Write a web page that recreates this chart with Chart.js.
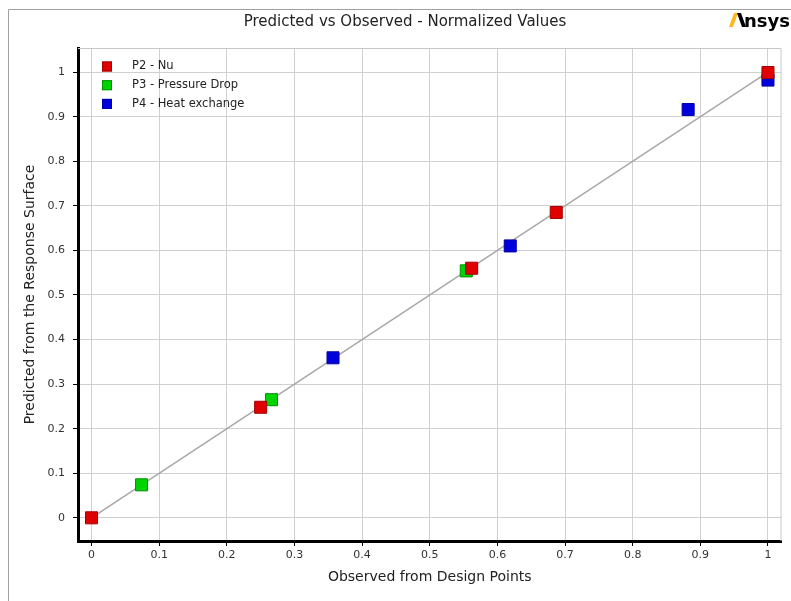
<!DOCTYPE html>
<html>
<head>
<meta charset="utf-8">
<script src="https://cdn.jsdelivr.net/npm/chart.js@4/dist/chart.umd.min.js"></script>
<style>
  html, body { margin: 0; padding: 0; background: #fff; }
  #chart { display: block; }
</style>
</head>
<body>
<canvas id="chart" width="791" height="601"></canvas>
<script>
const seriesLabels = ["P2 - Nu", "P3 - Pressure Drop", "P4 - Heat exchange"];
const seriesColors = ["#e00000", "#00d400", "#0000dc"];
const seriesBorders = ["#a00000", "#009000", "#0000a0"];

const nuObserved = [0, 0.25, 0.562, 0.687, 1];
const nuPredicted = [0, 0.248, 0.56, 0.685, 0.999];
const dropObserved = [0.074, 0.266, 0.554];
const dropPredicted = [0.074, 0.265, 0.554];
const heatObserved = [0.357, 0.619, 0.882, 1];
const heatPredicted = [0.359, 0.61, 0.916, 0.982];

const fitX = [0, 1];
const fitY = [0, 1];

const xTicks = [0, 0.1, 0.2, 0.3, 0.4, 0.5, 0.6, 0.7, 0.8, 0.9, 1];
const yTicks = [0, 0.1, 0.2, 0.3, 0.4, 0.5, 0.6, 0.7, 0.8, 0.9, 1];

const toPoints = (xs, ys) => xs.map((x, i) => ({ x: x, y: ys[i] }));

const observedSets = [nuObserved, dropObserved, heatObserved];
const predictedSets = [nuPredicted, dropPredicted, heatPredicted];

const markerSets = seriesLabels.map((label, i) => ({
  type: "scatter",
  label: label,
  data: toPoints(observedSets[i], predictedSets[i]),
  backgroundColor: seriesColors[i],
  borderColor: seriesBorders[i],
  borderWidth: 1,
  pointStyle: "rect",
  pointRadius: 8.5,
  pointHoverRadius: 8.5,
  order: i,
}));

const fitLine = {
  type: "line",
  label: "fit",
  data: toPoints(fitX, fitY),
  borderColor: "#a8a8a8",
  borderWidth: 1.5,
  pointRadius: 0,
  fill: false,
  order: 10,
};

// frame, title, logo, plot border and legend
const decorations = {
  id: "decorations",
  beforeDraw(chart) {
    const ctx = chart.ctx;
    ctx.save();
    ctx.strokeStyle = "#a0a0a0";
    ctx.lineWidth = 1;
    ctx.beginPath();
    ctx.moveTo(8.5, 601);
    ctx.lineTo(8.5, 9.5);
    ctx.lineTo(791, 9.5);
    ctx.stroke();
    ctx.restore();
  },
  afterDraw(chart) {
    const ctx = chart.ctx;
    const area = chart.chartArea;
    ctx.save();

    // top and right plot border
    ctx.strokeStyle = "#c8c8c8";
    ctx.lineWidth = 1;
    ctx.beginPath();
    ctx.moveTo(area.left, area.top + 0.5);
    ctx.lineTo(area.right - 0.5, area.top + 0.5);
    ctx.lineTo(area.right - 0.5, area.bottom);
    ctx.stroke();

    // title
    ctx.fillStyle = "#222";
    ctx.font = "15px 'DejaVu Sans'";
    ctx.textAlign = "center";
    ctx.textBaseline = "middle";
    ctx.fillText("Predicted vs Observed - Normalized Values", 405, 22);

    // logo
    ctx.fillStyle = "#ffb71b";
    ctx.beginPath();
    ctx.moveTo(729, 27);
    ctx.lineTo(734, 13);
    ctx.lineTo(738, 13);
    ctx.lineTo(733, 27);
    ctx.closePath();
    ctx.fill();
    ctx.fillStyle = "#000";
    ctx.beginPath();
    ctx.moveTo(737, 13);
    ctx.lineTo(741, 13);
    ctx.lineTo(746, 27);
    ctx.lineTo(742, 27);
    ctx.closePath();
    ctx.fill();
    ctx.font = "bold 18px 'DejaVu Sans'";
    ctx.textAlign = "left";
    ctx.textBaseline = "alphabetic";
    ctx.fillText("nsys", 744, 27);

    // legend inside plot
    ctx.font = "11.5px 'DejaVu Sans'";
    ctx.textBaseline = "middle";
    markerSets.forEach((ds, i) => {
      const y = 66.5 + i * 18.7;
      ctx.fillStyle = ds.backgroundColor;
      ctx.fillRect(102, y - 5, 10, 10);
      ctx.strokeStyle = ds.borderColor;
      ctx.strokeRect(102.5, y - 4.5, 9, 9);
      ctx.fillStyle = "#222";
      ctx.fillText(ds.label, 132, y);
    });
    ctx.restore();
  },
};

new Chart(document.getElementById("chart"), {
  type: "scatter",
  data: { datasets: [...markerSets, fitLine] },
  options: {
    responsive: false,
    animation: false,
    layout: { padding: { top: 48, right: 9, left: 0, bottom: 0 } },
    plugins: {
      legend: { display: false },
      tooltip: { enabled: false },
      title: { display: false },
    },
    scales: {
      x: {
        type: "linear",
        min: -0.02,
        max: 1.02,
        afterBuildTicks: (s) => { s.ticks = xTicks.map((v) => ({ value: v })); },
        afterFit: (s) => { s.height = 60; },
        border: { color: "#000", width: 3 },
        grid: { color: "#d0d0d0", tickColor: "#000", tickLength: 5, lineWidth: 1 },
        ticks: {
          color: "#333",
          padding: 3,
          maxRotation: 0,
          font: { family: "'DejaVu Sans'", size: 11 },
          callback: (v) => String(Math.round(v * 10) / 10),
        },
        title: {
          display: true,
          text: "Observed from Design Points",
          color: "#222",
          font: { family: "'DejaVu Sans'", size: 14 },
          padding: { top: 0, bottom: 15 },
        },
      },
      y: {
        type: "linear",
        min: -0.052,
        max: 1.054,
        afterBuildTicks: (s) => { s.ticks = yTicks.map((v) => ({ value: v })); },
        afterFit: (s) => { s.width = 78; },
        border: { color: "#000", width: 3 },
        grid: { color: "#d0d0d0", tickColor: "#000", tickLength: 5, lineWidth: 1 },
        ticks: {
          color: "#333",
          padding: 8,
          font: { family: "'DejaVu Sans'", size: 11 },
          callback: (v) => String(Math.round(v * 10) / 10),
        },
        title: {
          display: true,
          text: "Predicted from the Response Surface",
          color: "#222",
          font: { family: "'DejaVu Sans'", size: 14 },
          padding: { top: 22, bottom: 0 },
        },
      },
    },
  },
  plugins: [decorations],
});
</script>
</body>
</html>
